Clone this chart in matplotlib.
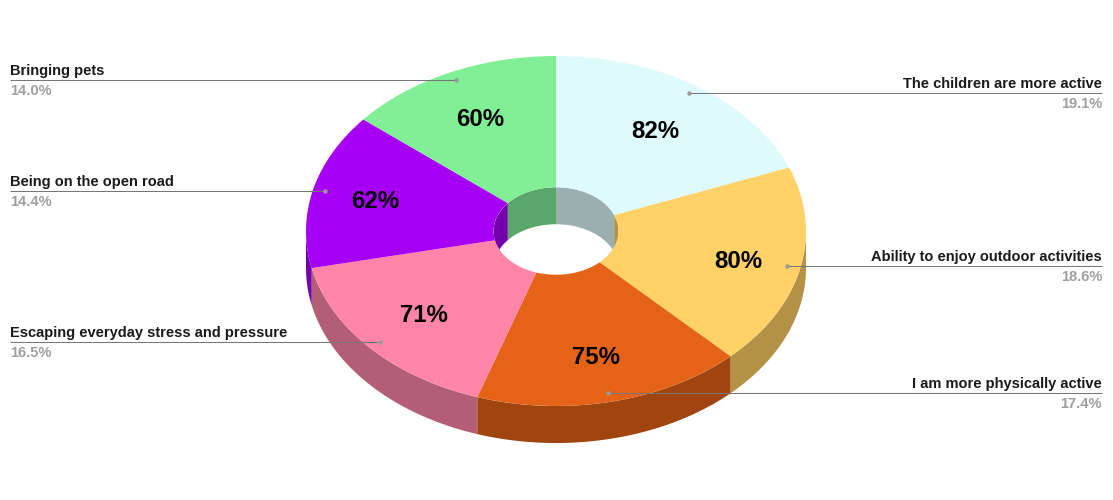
import numpy as np
import matplotlib
matplotlib.use("Agg")
import matplotlib.pyplot as plt
from matplotlib.patches import Ellipse
from matplotlib.transforms import Affine2D

plt.rcParams['font.family'] = ['Liberation Sans', 'DejaVu Sans']

categories = ["The children are more active", "Ability to enjoy outdoor activities",
              "I am more physically active", "Escaping everyday stress and pressure",
              "Being on the open road", "Bringing pets"]
shares = [19.1, 18.6, 17.4, 16.5, 14.4, 14.0]
inner_labels = ["82%", "80%", "75%", "71%", "62%", "60%"]
colors = ["#DFFAFC", "#FFD166", "#E56316", "#FF85A8", "#A600F5", "#80EF96"]
wall_colors = ["#9CAFB0", "#B39247", "#A0450F", "#B35D76", "#7400AC", "#5AA76A"]

W, H = 1113, 500
CX, CY, RX, RY, DEPTH = 556, 231, 250, 175, 37
HOLE = 0.25
inner_pos = [(655, 131), (738, 261), (596, 358), (424, 316), (375, 201), (480, 120)]
# leader: text-side x, y, anchor x, side
leaders = [(1102, 93, 689), (1102, 266, 787), (1102, 393, 608),
           (10, 342, 380), (10, 191, 325), (10, 80, 456)]

fig = plt.figure(figsize=(W / 100, H / 100), dpi=100, facecolor="white")
ax = fig.add_axes([0, 0, 1, 1])
ax.pie(shares, colors=colors, startangle=90, counterclock=False, radius=1,
       wedgeprops=dict(width=1 - HOLE, linewidth=0, zorder=3))
ax.set_aspect("auto")
ax.set_xlim(-CX / RX, (W - CX) / RX)
ax.set_ylim((CY - H) / RY, CY / RY)
ax.axis("off")

px = Affine2D().scale(1 / W, -1 / H).translate(0, 1) + fig.transFigure
d = DEPTH / RY
edges = np.concatenate([[0], np.cumsum(shares)]) / sum(shares) * 2 * np.pi


def band(t0, t1, r):
    t = np.linspace(t0, t1, 80)
    x, y = r * np.sin(t), r * np.cos(t)
    return np.r_[x, x[::-1]], np.r_[y, y[::-1] - d]


hole_clip = Ellipse((0, 0), 2 * HOLE, 2 * HOLE, transform=ax.transData)
for i, wc in enumerate(wall_colors):
    t0, t1 = edges[i], edges[i + 1]
    # outer wall: lower half of the ellipse
    a, b = max(t0, np.pi / 2), min(t1, 3 * np.pi / 2)
    if b > a:
        x, y = band(a, b, 1)
        ax.fill(x, y, color=wc, lw=0, zorder=2)
    # inner wall seen through the hole: upper half
    for lo, hi in [(0, np.pi / 2), (3 * np.pi / 2, 2 * np.pi)]:
        a, b = max(t0, lo), min(t1, hi)
        if b > a:
            x, y = band(a, b, HOLE)
            p = ax.fill(x, y, color=wc, lw=0, zorder=4)[0]
            p.set_clip_path(hole_clip)

for label, (x, y) in zip(inner_labels, inner_pos):
    ax.text(x, y, label, transform=px, ha="center", va="center",
            fontsize=17.3, fontweight="bold", color="black", zorder=6)

for name, share, (x0, y, x1) in zip(categories, shares, leaders):
    ax.plot([x0, x1], [y, y], transform=px, color="#777777", lw=0.75, zorder=5,
            solid_capstyle="butt")
    ax.plot([x1], [y], transform=px, marker="o", ms=3.2, color="#999999", mew=0, zorder=5)
    ha = "left" if x0 < CX else "right"
    ax.text(x0, y - 9, name, transform=px, ha=ha, va="center",
            fontsize=10.55, fontweight="bold", color="#1a1a1a", zorder=6)
    ax.text(x0, y + 11, f"{share:.1f}%", transform=px, ha=ha, va="center",
            fontsize=10.55, fontweight="bold", color="#9e9e9e", zorder=6)

fig.savefig("out.png", dpi=100, facecolor="white")
